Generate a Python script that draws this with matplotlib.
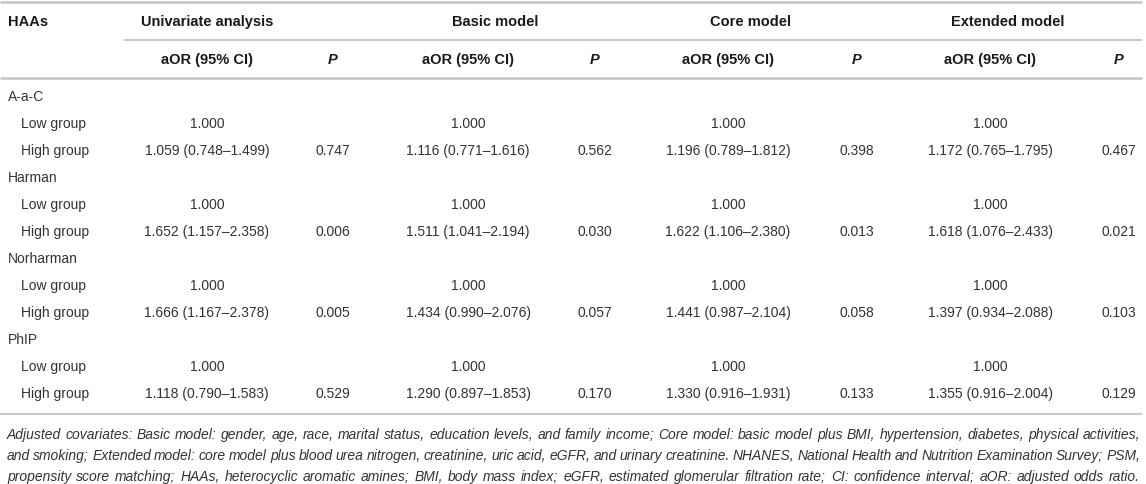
import matplotlib
matplotlib.use("Agg")
import matplotlib.pyplot as plt

plt.rcParams['font.family'] = ['Liberation Sans', 'DejaVu Sans']

W, H = 1146, 485

# table content
haas = ["A-a-C", "Harman", "Norharman", "PhIP"]
models = ["Univariate analysis", "Basic model", "Core model", "Extended model"]

# high group aOR, lower CI, upper CI, P  (per model, per HAA)
univ_or = [1.059, 1.652, 1.666, 1.118]
univ_lo = [0.748, 1.157, 1.167, 0.790]
univ_hi = [1.499, 2.358, 2.378, 1.583]
univ_p = ["0.747", "0.006", "0.005", "0.529"]

basic_or = [1.116, 1.511, 1.434, 1.290]
basic_lo = [0.771, 1.041, 0.990, 0.897]
basic_hi = [1.616, 2.194, 2.076, 1.853]
basic_p = ["0.562", "0.030", "0.057", "0.170"]

core_or = [1.196, 1.622, 1.441, 1.330]
core_lo = [0.789, 1.106, 0.987, 0.916]
core_hi = [1.812, 2.380, 2.104, 1.931]
core_p = ["0.398", "0.013", "0.058", "0.133"]

ext_or = [1.172, 1.618, 1.397, 1.355]
ext_lo = [0.765, 1.076, 0.934, 0.916]
ext_hi = [1.795, 2.433, 2.088, 2.004]
ext_p = ["0.467", "0.021", "0.103", "0.129"]

footnote = [
    "Adjusted covariates: Basic model: gender, age, race, marital status, education levels, and family income; "
    "Core model: basic model plus BMI, hypertension, diabetes, physical activities,",
    "and smoking; Extended model: core model plus blood urea nitrogen, creatinine, uric acid, eGFR, and urinary "
    "creatinine. NHANES, National Health and Nutrition Examination Survey; PSM,",
    "propensity score matching; HAAs, heterocyclic aromatic amines; BMI, body mass index; eGFR, estimated "
    "glomerular filtration rate; CI: confidence interval; aOR: adjusted odds ratio.",
]

model_data = [
    (univ_or, univ_lo, univ_hi, univ_p),
    (basic_or, basic_lo, basic_hi, basic_p),
    (core_or, core_lo, core_hi, core_p),
    (ext_or, ext_lo, ext_hi, ext_p),
]

fig = plt.figure(figsize=(W / 100, H / 100), dpi=100)
ax = fig.add_axes([0, 0, 1, 1])
ax.set_xlim(0, W)
ax.set_ylim(H, 0)
ax.axis("off")

line_col = "#c4c4c4"
head_col = "#1a1a1a"
body_col = "#333333"

or_x = [207, 468, 728, 990]
p_x = [333, 595, 857, 1119]
grp_x = [207, 495, 750, 1008]

# rules
ax.hlines(3, 0, 1142, color=line_col, lw=1.8)
ax.hlines(41, 124, 1142, color=line_col, lw=1.3)
ax.hlines(79, 0, 1142, color=line_col, lw=1.8)
ax.hlines(415, 0, 1142, color=line_col, lw=1.3)

# header
hfs = 10.5
ax.text(8, 22, "HAAs", fontsize=hfs, fontweight="bold", color=head_col, va="center")
for i, m in enumerate(models):
    ax.text(grp_x[i], 22, m, fontsize=hfs, fontweight="bold", color=head_col, ha="center", va="center")
    ax.text(or_x[i], 60, "aOR (95% CI)", fontsize=hfs, fontweight="bold", color=head_col,
            ha="center", va="center")
    ax.text(p_x[i], 60, "P", fontsize=hfs, fontweight="bold", style="italic", color=head_col,
            ha="center", va="center")

# body rows
bfs = 10
y0, dy = 97, 27.0
row = 0
for k, name in enumerate(haas):
    y = y0 + dy * row
    ax.text(8, y, name, fontsize=bfs, color=body_col, va="center")
    row += 1
    y = y0 + dy * row
    ax.text(21, y, "Low group", fontsize=bfs, color=body_col, va="center")
    for i in range(4):
        ax.text(or_x[i], y, "1.000", fontsize=bfs, color=body_col, ha="center", va="center")
    row += 1
    y = y0 + dy * row
    ax.text(21, y, "High group", fontsize=bfs, color=body_col, va="center")
    for i, (o, lo, hi, p) in enumerate(model_data):
        s = f"{o[k]:.3f} ({lo[k]:.3f}\u2013{hi[k]:.3f})"
        ax.text(or_x[i], y, s, fontsize=bfs, color=body_col, ha="center", va="center")
        ax.text(p_x[i], y, p[k], fontsize=bfs, color=body_col, ha="center", va="center")
    row += 1

# footnote, justified word by word
renderer = fig.canvas.get_renderer()
left, right = 7, 1140
for j, ln in enumerate(footnote):
    y = 439 + 21 * j
    words = ln.split(" ")
    txts = [ax.text(0, y, w, fontsize=10, style="italic", color=body_col, va="baseline") for w in words]
    widths = [t.get_window_extent(renderer).width for t in txts]
    gap = (right - left - sum(widths)) / (len(words) - 1)
    x = left
    for t, w in zip(txts, widths):
        t.set_x(x)
        x += w + gap

fig.savefig("out.png", dpi=100)
